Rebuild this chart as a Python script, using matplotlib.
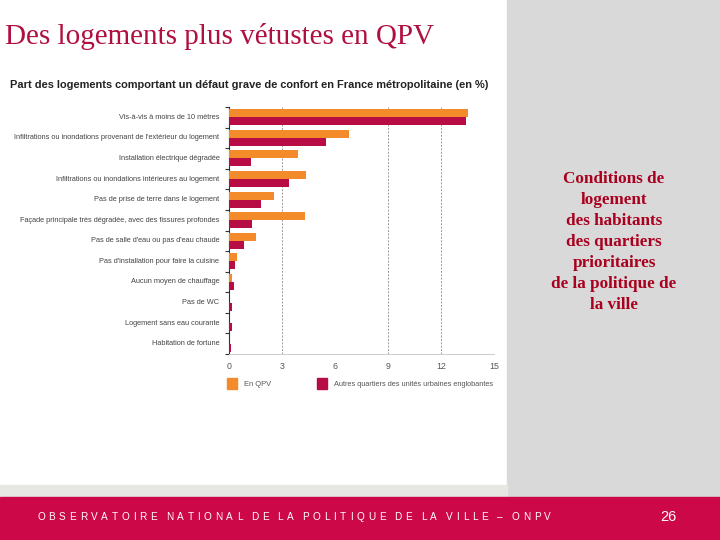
import numpy as np
import matplotlib.pyplot as plt
from matplotlib.patches import Rectangle

# Données du graphique (en %)
categories = [
    "Vis-à-vis à moins de 10 mètres",
    "Infiltrations ou inondations provenant de l'extérieur du logement",
    "Installation électrique dégradée",
    "Infiltrations ou inondations intérieures au logement",
    "Pas de prise de terre dans le logement",
    "Façade principale très dégradée, avec des fissures profondes",
    "Pas de salle d'eau ou pas d'eau chaude",
    "Pas d'installation pour faire la cuisine",
    "Aucun moyen de chauffage",
    "Pas de WC",
    "Logement sans eau courante",
    "Habitation de fortune",
]
en_qpv = [13.5, 6.75, 3.9, 4.35, 2.5, 4.3, 1.5, 0.4, 0.15, 0.0, 0.0, 0.0]
autres_quartiers = [13.4, 5.5, 1.2, 3.4, 1.8, 1.25, 0.8, 0.3, 0.25, 0.15, 0.12, 0.1]
xticks = [0, 3, 6, 9, 12, 15]
grid_vals = [3, 9, 12]

orange = '#F38B2A'
crimson = '#B80C44'
sans = ['Liberation Sans', 'DejaVu Sans']
serif = ['Liberation Serif', 'DejaVu Serif']

fig = plt.figure(figsize=(7.2, 5.4), dpi=100)
W, H = 720, 540

def fx(px):
    return px / W

def fy(py):
    return 1 - py / H

# fonds de la diapositive
fig.patches.append(Rectangle((fx(507), fy(497)), fx(213), 497 / H, transform=fig.transFigure,
                             color='#D9D9D9', zorder=0))
fig.patches.append(Rectangle((0, fy(497)), fx(507), 12 / H, transform=fig.transFigure,
                             color='#E7E7E4', zorder=0))
fig.patches.append(Rectangle((0, 0), 1, 43 / H, transform=fig.transFigure,
                             color='#CC0849', zorder=0))

# titre de la diapositive
fig.text(fx(5), fy(37), "Des logements plus vétustes en QPV", family=serif,
         fontsize=21, color='#B0103F', va='center', ha='left')

# titre du graphique
fig.text(fx(10), fy(85), "Part des logements comportant un défaut grave de confort en France métropolitaine (en %)",
         family=sans, fontsize=7.9, fontweight='bold',
         color='#222222', va='center', ha='left')

# graphique
ax = fig.add_axes([fx(229.5), fy(354), fx(494 - 229.5), 247 / H])
y = np.arange(len(categories))
h = 0.39
ax.barh(y - h / 2, en_qpv, height=h, color=orange, zorder=3)
ax.barh(y + h / 2, autres_quartiers, height=h, color=crimson, zorder=3)
ax.set_xlim(0, 15)
ax.set_ylim(len(categories) - 0.5, -0.5)
for g in grid_vals:
    ax.axvline(g, color='#9A9A9A', linestyle=(0, (2, 1.5)), linewidth=0.7, zorder=1)

ax.set_yticks(np.arange(len(categories) + 1) - 0.5)
ax.set_yticklabels([])
ax.tick_params(axis='y', length=3, width=0.8, color='#333333', direction='out')
for i, lab in enumerate(categories):
    ax.text(-0.57, i, lab, ha='right', va='center', fontsize=5.3, family=sans,
            color='#444444')

ax.set_xticks(xticks)
ax.set_xticklabels([str(t) for t in xticks], fontsize=6.3, color='#555555', family=sans)
ax.tick_params(axis='x', length=0, pad=6)
for s in ['top', 'right']:
    ax.spines[s].set_visible(False)
ax.spines['left'].set_color('#333333')
ax.spines['left'].set_linewidth(0.8)
ax.spines['bottom'].set_color('#CCCCCC')
ax.spines['bottom'].set_linewidth(0.7)

# légende
fig.patches.append(Rectangle((fx(227), fy(389)), fx(10), 11 / H, transform=fig.transFigure,
                             color=orange))
fig.text(fx(244), fy(384), "En QPV", fontsize=5.4, family=sans, color='#555555', va='center')
fig.patches.append(Rectangle((fx(317), fy(389)), fx(10), 11 / H, transform=fig.transFigure,
                             color=crimson))
fig.text(fx(334), fy(384), "Autres quartiers des unités urbaines englobantes", fontsize=5.3,
         family=sans, color='#555555', va='center')

# texte de droite
fig.text(fx(614), fy(242), "Conditions de\nlogement\ndes habitants\ndes quartiers\nprioritaires\nde la politique de\nla ville",
         family=serif, fontsize=12.3, fontweight='bold', color='#A8001E', ha='center', va='center',
         linespacing=1.42)

# pied de page (lettres espacées)
footer = "OBSERVATOIRE NATIONAL DE LA POLITIQUE DE LA VILLE – ONPV"
fig.canvas.draw()
renderer = fig.canvas.get_renderer()
xpos = 37.0
for ch in footer:
    if ch == ' ':
        xpos += 5.0
        continue
    t = fig.text(fx(xpos), fy(517), ch, fontsize=7.2, color='white', va='center', ha='left',
                 family=sans)
    wpx = t.get_window_extent(renderer).width
    xpos += wpx + 3.75

fig.text(fx(668), fy(517), "26", fontsize=10.5, color='white', ha='center', va='center',
         family=sans)

fig.savefig('out.png', dpi=100)
